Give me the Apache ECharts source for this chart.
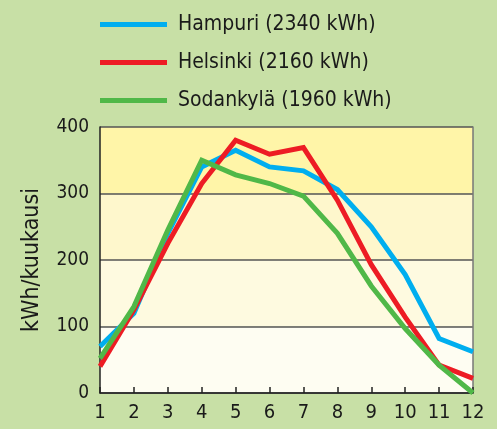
<!DOCTYPE html>
<html>
<head>
<meta charset="utf-8">
<script src="https://cdn.jsdelivr.net/npm/echarts@6/dist/echarts.min.js"></script>
<style>
  html, body { margin: 0; padding: 0; background: #c8e0a6; }
  #main { width: 497px; height: 429px; }
</style>
</head>
<body>
<div id="main"></div>
<script>
var months = ["1", "2", "3", "4", "5", "6", "7", "8", "9", "10", "11", "12"];
var hampuri = [70, 120, 240, 340, 365, 340, 334, 306, 250, 178, 82, 62];
var helsinki = [40, 125, 225, 315, 380, 359, 369, 290, 193, 114, 42, 22];
var sodankyla = [52, 130, 245, 350, 328, 315, 296, 240, 161, 97, 42, 0];
var seriesNames = ["Hampuri (2340 kWh)", "Helsinki (2160 kWh)", "Sodankylä (1960 kWh)"];
var yTicks = [0, 100, 200, 300, 400];

var font = "DejaVu Sans Condensed";
var myChart = echarts.init(document.getElementById("main"));

function line(name, data, color) {
  return {
    name: name,
    type: "line",
    data: data,
    symbol: "none",
    smooth: false,
    color: color,
    lineStyle: { width: 5, color: color, join: "miter" }
  };
}

myChart.setOption({
  backgroundColor: "#c8e0a6",
  animation: false,
  textStyle: { fontFamily: font },
  legend: {
    orient: "vertical",
    left: 95,
    top: 9,
    itemWidth: 67,
    itemHeight: 5,
    itemGap: 17,
    icon: "rect",
    textStyle: { fontFamily: font, fontSize: 21, color: "#1a1a1a", padding: [0, 0, 0, 6] },
    data: seriesNames
  },
  grid: { left: 100, right: 24, top: 127, bottom: 36 },
  xAxis: {
    type: "category",
    data: months,
    boundaryGap: false,
    axisLine: { lineStyle: { color: "#222", width: 1.5 } },
    axisTick: { inside: true, length: 6, lineStyle: { color: "#222", width: 1.5 } },
    axisLabel: { fontFamily: font, fontSize: 20, color: "#1a1a1a", margin: 10 }
  },
  yAxis: [
    {
      type: "value",
      min: yTicks[0],
      max: yTicks[yTicks.length - 1],
      interval: 100,
      name: "kWh/kuukausi",
      nameLocation: "middle",
      nameGap: 56,
      nameRotate: 90,
      nameTextStyle: { fontFamily: font, fontSize: 23, color: "#1a1a1a" },
      axisLine: { show: true, lineStyle: { color: "#222", width: 1.5 } },
      axisTick: { show: false },
      axisLabel: { fontFamily: font, fontSize: 19, color: "#1a1a1a", margin: 11 },
      splitLine: { show: true, lineStyle: { color: "#555", width: 1.5 } },
      splitArea: { show: true, areaStyle: { color: ["#fefdf2", "#fefae0", "#fef7cc", "#fff5a8"] } }
    },
    {
      type: "value",
      position: "right",
      min: 0,
      max: 400,
      interval: 100,
      axisLine: { show: true, lineStyle: { color: "#777", width: 1.5 } },
      axisTick: { show: false },
      axisLabel: { show: false },
      splitLine: { show: false }
    }
  ],
  series: [
    line(seriesNames[0], hampuri, "#00aeef"),
    line(seriesNames[1], helsinki, "#ed1c24"),
    line(seriesNames[2], sodankyla, "#50b848")
  ]
});
</script>
</body>
</html>
